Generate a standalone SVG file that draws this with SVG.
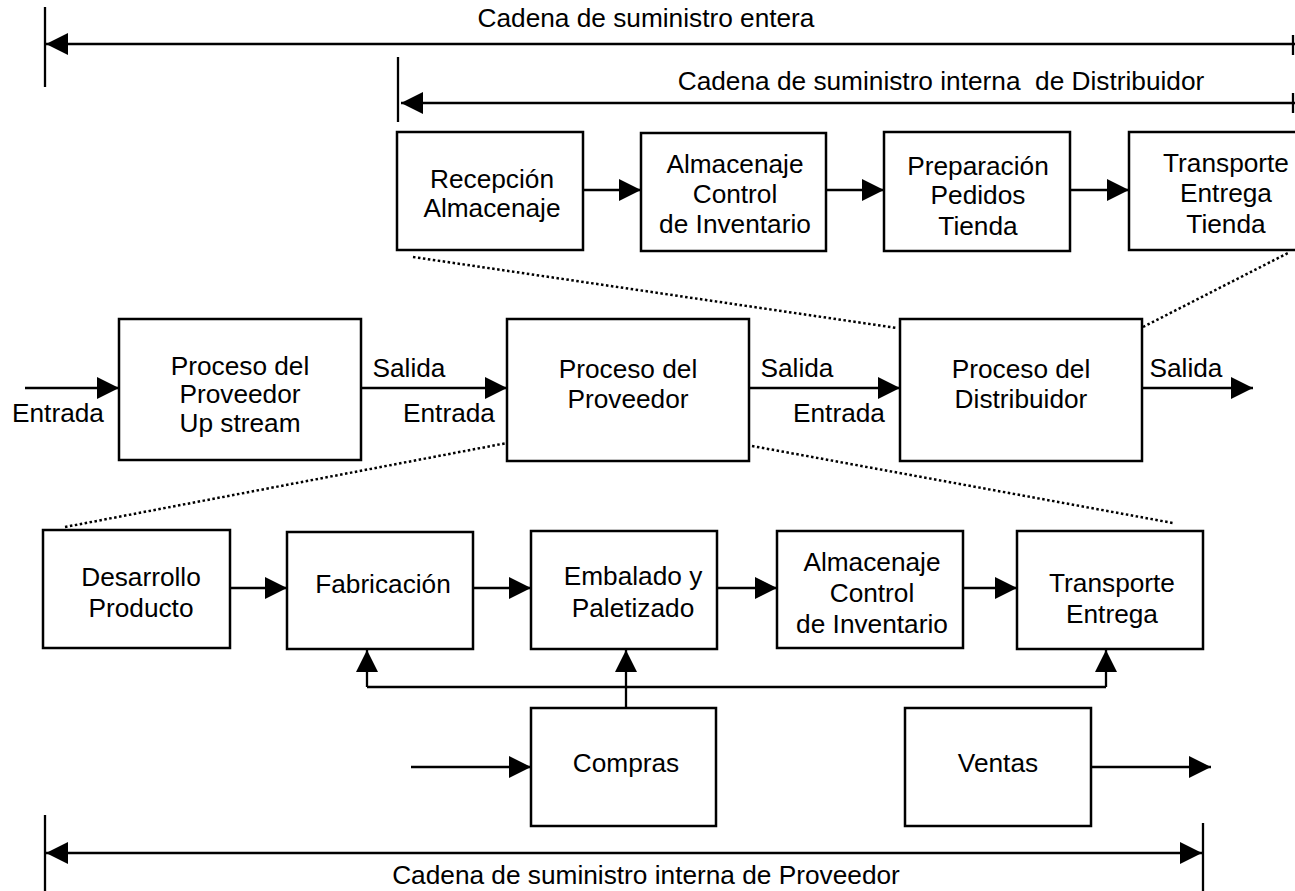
<svg xmlns="http://www.w3.org/2000/svg" width="1295" height="891" viewBox="0 0 1295 891">
<defs>
<style>
rect.box{fill:#fff;stroke:#000;stroke-width:2.5}
.ln{stroke:#000;stroke-width:2.3;fill:none}
.dot{stroke:#000;stroke-width:2.5;fill:none;stroke-dasharray:2.5 2.5}
text{font-family:"Liberation Sans",Arial,sans-serif;font-size:25px;fill:#000;text-anchor:middle;transform-box:fill-box;transform-origin:center;transform:scaleX(1.05)}
</style>
<marker id="ah" markerUnits="userSpaceOnUse" markerWidth="22" markerHeight="22" refX="22" refY="11" orient="auto-start-reverse" viewBox="0 0 22 22">
<path d="M0,0 L22,11 L0,22 z" fill="#000"/>
</marker>
</defs>
<rect width="1295" height="891" fill="#fff"/>

<g id="dimensions">
<line class="ln" x1="45" y1="7" x2="45" y2="87"/>
<line class="ln" x1="46" y1="44" x2="1295" y2="44" marker-start="url(#ah)"/>
<line class="ln" x1="1293" y1="35" x2="1293" y2="55" stroke-width="3"/>
<text x="646" y="27">Cadena de suministro entera</text>
<line class="ln" x1="398" y1="57" x2="398" y2="122"/>
<line class="ln" x1="401" y1="103" x2="1295" y2="103" marker-start="url(#ah)"/>
<line class="ln" x1="1293" y1="93" x2="1293" y2="113" stroke-width="3"/>
<text x="941" y="90" xml:space="preserve">Cadena de suministro interna  de Distribuidor</text>
<line class="ln" x1="45" y1="815" x2="45" y2="891"/>
<line class="ln" x1="1203" y1="823" x2="1203" y2="891"/>
<line class="ln" x1="46" y1="853" x2="1202" y2="853" marker-start="url(#ah)" marker-end="url(#ah)"/>
<text x="646" y="884">Cadena de suministro interna de Proveedor</text>
</g>

<g id="connectors">
<line class="ln" x1="583" y1="190" x2="641" y2="190" marker-end="url(#ah)"/>
<line class="ln" x1="826" y1="190" x2="884" y2="190" marker-end="url(#ah)"/>
<line class="ln" x1="1070" y1="190" x2="1129" y2="190" marker-end="url(#ah)"/>
<line class="ln" x1="25" y1="388" x2="119" y2="388" marker-end="url(#ah)"/>
<line class="ln" x1="361" y1="388" x2="507" y2="388" marker-end="url(#ah)"/>
<line class="ln" x1="749" y1="388" x2="900" y2="388" marker-end="url(#ah)"/>
<line class="ln" x1="1142" y1="388" x2="1253" y2="388" marker-end="url(#ah)"/>
<line class="ln" x1="230" y1="588" x2="287" y2="588" marker-end="url(#ah)"/>
<line class="ln" x1="473" y1="588" x2="531" y2="588" marker-end="url(#ah)"/>
<line class="ln" x1="717" y1="588" x2="777" y2="588" marker-end="url(#ah)"/>
<line class="ln" x1="963" y1="588" x2="1017" y2="588" marker-end="url(#ah)"/>
<polyline class="ln" points="367,687 1106,687"/>
<line class="ln" x1="367" y1="687" x2="367" y2="650" marker-end="url(#ah)"/>
<line class="ln" x1="1106" y1="687" x2="1106" y2="650" marker-end="url(#ah)"/>
<line class="ln" x1="626" y1="708" x2="626" y2="650" marker-end="url(#ah)"/>
<line class="ln" x1="411" y1="767" x2="531" y2="767" marker-end="url(#ah)"/>
<line class="ln" x1="1091" y1="767" x2="1211" y2="767" marker-end="url(#ah)"/>
<line class="dot" x1="413" y1="257" x2="897" y2="328"/>
<line class="dot" x1="1143" y1="327" x2="1288" y2="253"/>
<line class="dot" x1="65" y1="527" x2="507" y2="443"/>
<line class="dot" x1="752" y1="446" x2="1173" y2="523"/>
<text x="58" y="422">Entrada</text>
<text x="409" y="377">Salida</text>
<text x="449" y="422">Entrada</text>
<text x="797" y="377">Salida</text>
<text x="839" y="422">Entrada</text>
<text x="1186" y="377">Salida</text>
</g>

<g id="n-recepcion"><rect class="box" x="397" y="132" width="186" height="118"/>
<text x="492" y="188">Recepción</text><text x="492" y="217">Almacenaje</text></g>
<g id="n-almacenaje-d"><rect class="box" x="641" y="133" width="185" height="118"/>
<text x="735" y="173">Almacenaje</text><text x="735" y="203">Control</text><text x="735" y="233">de Inventario</text></g>
<g id="n-preparacion"><rect class="box" x="884" y="132" width="186" height="119"/>
<text x="978" y="175">Preparación</text><text x="978" y="204">Pedidos</text><text x="978" y="235">Tienda</text></g>
<g id="n-transporte-t"><rect class="box" x="1129" y="132" width="190" height="118"/>
<text x="1226" y="172">Transporte</text><text x="1226" y="202">Entrega</text><text x="1226" y="233">Tienda</text></g>

<g id="n-upstream"><rect class="box" x="119" y="319" width="242" height="141"/>
<text x="240" y="375">Proceso del</text><text x="240" y="403">Proveedor</text><text x="240" y="432">Up stream</text></g>
<g id="n-proveedor"><rect class="box" x="507" y="319" width="242" height="142"/>
<text x="628" y="378">Proceso del</text><text x="628" y="408">Proveedor</text></g>
<g id="n-distribuidor"><rect class="box" x="900" y="319" width="242" height="142"/>
<text x="1021" y="378">Proceso del</text><text x="1021" y="408">Distribuidor</text></g>

<g id="n-desarrollo"><rect class="box" x="43" y="530" width="187" height="118"/>
<text x="141" y="586">Desarrollo</text><text x="141" y="617">Producto</text></g>
<g id="n-fabricacion"><rect class="box" x="287" y="532" width="186" height="117"/>
<text x="383" y="593">Fabricación</text></g>
<g id="n-embalado"><rect class="box" x="531" y="531" width="186" height="118"/>
<text x="633" y="585">Embalado y</text><text x="633" y="617">Paletizado</text></g>
<g id="n-almacenaje-p"><rect class="box" x="777" y="531" width="186" height="117"/>
<text x="872" y="571">Almacenaje</text><text x="872" y="602">Control</text><text x="872" y="633">de Inventario</text></g>
<g id="n-transporte"><rect class="box" x="1017" y="531" width="186" height="118"/>
<text x="1112" y="592">Transporte</text><text x="1112" y="623">Entrega</text></g>

<g id="n-compras"><rect class="box" x="531" y="708" width="185" height="118"/>
<text x="626" y="772">Compras</text></g>
<g id="n-ventas"><rect class="box" x="905" y="708" width="186" height="118"/>
<text x="998" y="772">Ventas</text></g>
</svg>
